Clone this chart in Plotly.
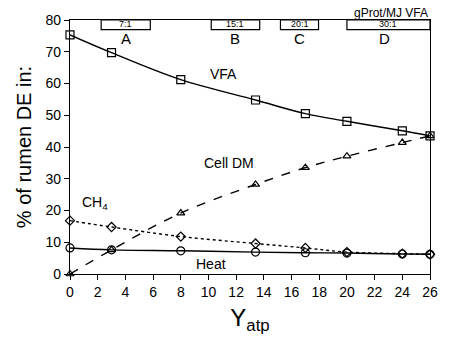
import plotly.graph_objects as go

# Yatp values (x axis)
yatp = [0, 3, 8, 13.4, 17, 20, 24, 26]

# % of rumen DE in each fraction
vfa = [75.3, 69.7, 61.2, 54.8, 50.5, 48.1, 45.1, 43.5]
cell_dm = [0, 7.6, 19.2, 28.2, 33.5, 37.1, 41.4, 43.5]
ch4 = [16.8, 14.8, 11.8, 9.6, 8.2, 6.9, 6.4, 6.2]
heat = [8.2, 7.6, 7.3, 6.9, 6.7, 6.6, 6.3, 6.2]

# gProt/MJ VFA bands at the top
band_labels = ["7:1", "15:1", "20:1", "30:1"]
band_letters = ["A", "B", "C", "D"]
band_start = [2.25, 10.2, 15.2, 20.0]
band_end = [5.8, 13.7, 17.95, 26.0]

FONT = "Liberation Sans"

fig = go.Figure()

series = [
    ("VFA", vfa, "solid", "square-open", 8),
    ("Cell DM", cell_dm, "dash", "triangle-up-open", 7),
    ("CH4", ch4, "dot", "diamond-open", 7),
    ("Heat", heat, "solid", "circle-open", 8),
]
for name, vals, dash, sym, size in series:
    fig.add_trace(
        go.Scatter(
            x=yatp,
            y=vals,
            mode="lines+markers",
            name=name,
            line=dict(color="black", width=1.4, dash=dash, shape="spline"),
            marker=dict(symbol=sym, size=size, color="black", line=dict(width=1.2, color="black")),
            cliponaxis=False,
        )
    )

# band boxes and labels
for lab, let, x0, x1 in zip(band_labels, band_letters, band_start, band_end):
    fig.add_shape(
        type="rect", x0=x0, x1=x1, y0=77.0, y1=80,
        xref="x", yref="y", line=dict(color="black", width=1.2), fillcolor="white",
    )
    fig.add_annotation(
        x=(x0 + x1) / 2, y=78.6, text=lab, showarrow=False,
        font=dict(family=FONT, size=9, color="black"),
    )
    fig.add_annotation(
        x=(x0 + x1) / 2 if let != "D" else 22.7, y=74.3, text=let, showarrow=False,
        font=dict(family=FONT, size=15, color="black"),
    )

fig.add_annotation(
    x=26, y=80, xanchor="right", yanchor="bottom", yshift=-2, text="gProt/MJ VFA",
    showarrow=False, font=dict(family=FONT, size=12, color="black"),
)

# curve labels
labels = [
    ("VFA", 11.1, 63),
    ("Cell DM", 11.5, 35),
    ("CH<sub>4</sub>", 1.8, 22.5),
    ("Heat", 10.2, 3),
]
for txt, x, y in labels:
    fig.add_annotation(
        x=x, y=y, text=txt, showarrow=False,
        font=dict(family=FONT, size=14, color="black"),
    )

fig.update_xaxes(
    range=[0, 26], dtick=2, tick0=0, ticks="outside", ticklen=5, tickwidth=1.2,
    tickcolor="black", showline=True, linecolor="black", linewidth=1.3, mirror=True,
    showgrid=False, zeroline=False,
    tickfont=dict(family=FONT, size=14, color="black"),
    title=dict(text="Y<sub>atp</sub>", font=dict(family=FONT, size=24, color="black"), standoff=10),
)
fig.update_yaxes(
    range=[0, 80], dtick=10, ticks="outside", ticklen=5, tickwidth=1.2,
    tickcolor="black", showline=True, linecolor="black", linewidth=1.3, mirror=True,
    showgrid=False, zeroline=False,
    tickfont=dict(family=FONT, size=14, color="black"),
    title=dict(text="% of rumen DE in:", font=dict(family=FONT, size=20, color="black"), standoff=8),
)

fig.update_layout(
    width=450, height=340,
    margin=dict(l=70, r=14, t=13, b=66),
    plot_bgcolor="white", paper_bgcolor="white",
    showlegend=False,
)

# drop the default page margin so the figure sits at the window's corner
fig.write_html(
    "out.html",
    config={"displayModeBar": False},
    post_script="document.body.style.margin='0';",
)
